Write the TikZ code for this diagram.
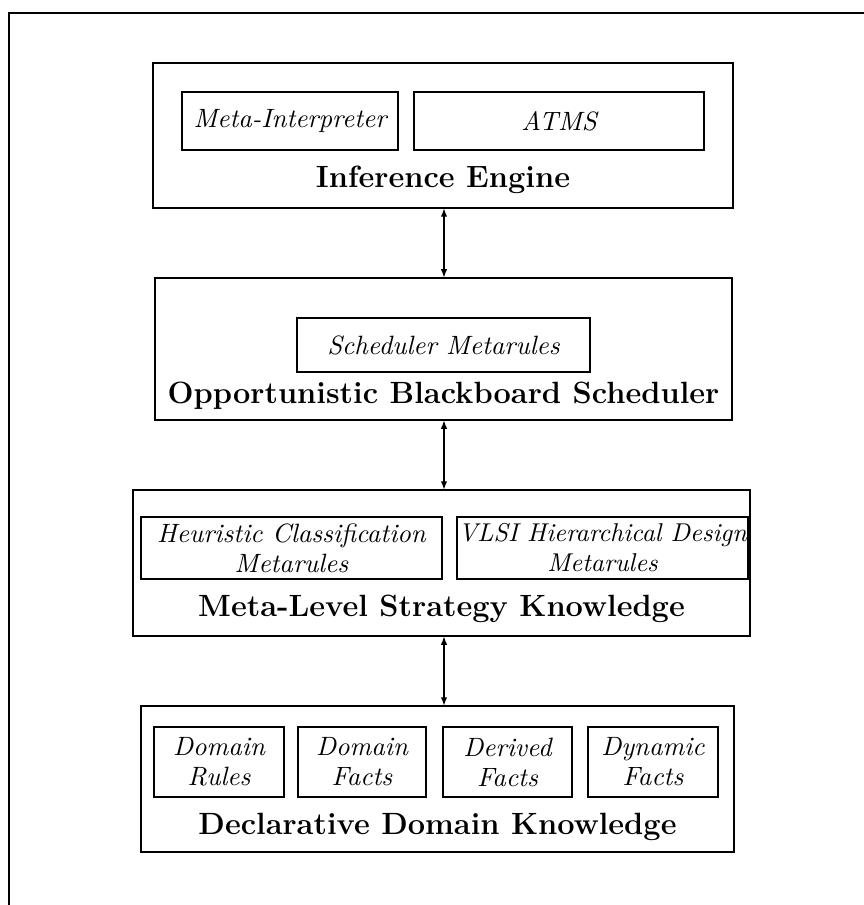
\documentclass[tikz,border=0pt]{standalone}
\usetikzlibrary{arrows.meta}
\begin{document}
\begin{tikzpicture}[x=0.4pt,y=-0.4pt,
  frame/.style={draw,line width=0.8pt,inner sep=0pt,outer sep=0pt},
  inbox/.style={draw,line width=0.8pt,inner sep=0pt,outer sep=0pt,align=center,
     font=\fontsize{10.6}{12}\selectfont\itshape},
  lbl/.style={inner sep=0pt,font=\fontsize{12.3}{14}\selectfont\bfseries},
  link/.style={line width=0.7pt,{Latex[length=3.5pt,width=2.6pt]}-{Latex[length=3.5pt,width=2.6pt]}}]
\useasboundingbox (0,0) rectangle (864,905);
% outer frame (runs off the page at right and bottom)
\draw[line width=0.7pt] (9,13) rectangle (880,920);

% Inference Engine
\node[frame,minimum width=580*0.4pt,minimum height=145*0.4pt] (b1) at (443,135.5) {};
\node[inbox,minimum width=216*0.4pt,minimum height=58*0.4pt] (mi) at (290,121) {Meta-Interpreter};
\node[inbox,minimum width=290*0.4pt,minimum height=58*0.4pt] (atms) at (559,121) {ATMS};
\node[lbl] (l1) at (443,180) {Inference Engine};

% Scheduler
\node[frame,minimum width=577*0.4pt,minimum height=142*0.4pt] (b2) at (443.5,349) {};
\node[inbox,minimum width=293*0.4pt,minimum height=54*0.4pt] (sm) at (443.5,345) {Scheduler Metarules};
\node[lbl] (l2) at (443.5,396) {Opportunistic Blackboard Scheduler};

% Meta-level
\node[frame,minimum width=617*0.4pt,minimum height=146*0.4pt] (b3) at (441.5,563) {};
\node[inbox,minimum width=301*0.4pt,minimum height=62*0.4pt] (hc) at (291.5,548) {Heuristic Classification\\Metarules};
\node[inbox,minimum width=291*0.4pt,minimum height=62*0.4pt,font=\fontsize{10.3}{12}\selectfont\itshape] (vl) at (602.5,548) {VLSI Hierarchical Design\\Metarules};
\node[lbl] (l3) at (441.5,609) {Meta-Level Strategy Knowledge};

% Declarative
\node[frame,minimum width=593*0.4pt,minimum height=146*0.4pt] (b4) at (437.5,779) {};
\node[inbox,minimum width=130*0.4pt,minimum height=70*0.4pt] (dr) at (219,762) {Domain\\Rules};
\node[inbox,minimum width=128*0.4pt,minimum height=70*0.4pt] (df) at (362,762) {Domain\\Facts};
\node[inbox,minimum width=129*0.4pt,minimum height=70*0.4pt] (dvf) at (507.5,762) {Derived\\Facts};
\node[inbox,minimum width=130*0.4pt,minimum height=70*0.4pt] (dyf) at (653,762) {Dynamic\\Facts};
\node[lbl] (l4) at (437.5,827) {Declarative Domain Knowledge};

% connectors
\coordinate (ax) at (444,0);
\draw[link] (b1.south -| ax) -- (b2.north -| ax);
\draw[link] (b2.south -| ax) -- (b3.north -| ax);
\draw[link] (b3.south -| ax) -- (b4.north -| ax);
\end{tikzpicture}
\end{document}
